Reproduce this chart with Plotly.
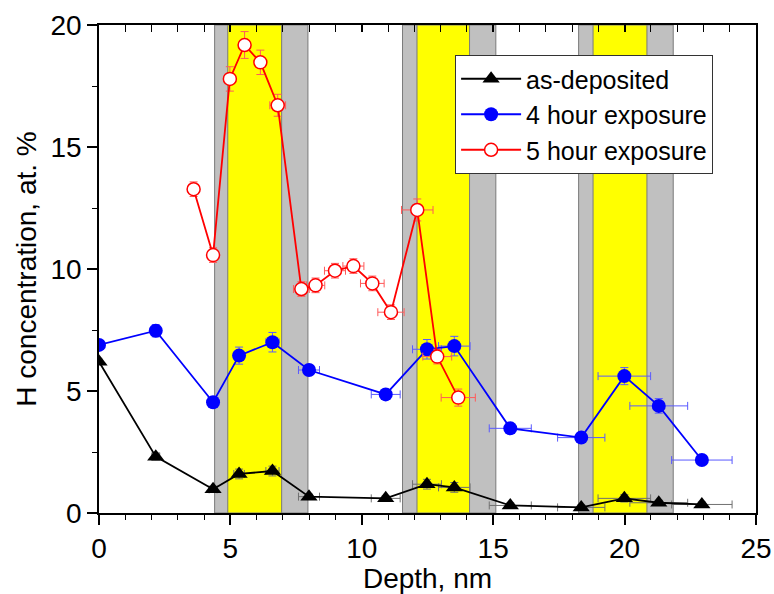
import plotly.graph_objects as go

# Depth profile points shared by the as-deposited and 4 hour samples (nm)
depth = [0, 2.16, 4.34, 5.33, 6.6, 7.99, 10.91, 12.48, 13.52, 15.65, 18.35, 19.99, 21.3, 22.94]
depth_err = [0.1, 0.15, 0.15, 0.2, 0.25, 0.4, 0.55, 0.55, 0.6, 0.8, 0.9, 1.0, 1.1, 1.15]

# H concentration, at. %
as_deposited = [6.2, 2.31, 0.97, 1.6, 1.72, 0.67, 0.6, 1.18, 1.05, 0.31, 0.23, 0.6, 0.42, 0.35]
as_deposited_err = [0.1, 0.15, 0.1, 0.2, 0.2, 0.1, 0.1, 0.2, 0.2, 0.1, 0.1, 0.15, 0.1, 0.1]

four_hour = [6.89, 7.47, 4.54, 6.45, 7.0, 5.86, 4.86, 6.71, 6.84, 3.47, 3.09, 5.61, 4.39, 2.17]
four_hour_err = [0.15, 0.25, 0.15, 0.35, 0.4, 0.2, 0.2, 0.4, 0.4, 0.15, 0.15, 0.35, 0.3, 0.1]

# 5 hour exposure sample
depth5 = [3.6, 4.34, 4.98, 5.54, 6.14, 6.8, 7.7, 8.24, 8.98, 9.68, 10.4, 11.11, 12.11, 12.87, 13.67]
depth5_err = [0.12, 0.12, 0.15, 0.15, 0.2, 0.3, 0.3, 0.35, 0.4, 0.4, 0.45, 0.5, 0.6, 0.55, 0.65]
five_hour = [13.27, 10.57, 17.79, 19.18, 18.47, 16.71, 9.18, 9.33, 9.93, 10.12, 9.41, 8.23, 12.42, 6.41, 4.73]
five_hour_err = [0.3, 0.3, 0.5, 0.55, 0.5, 0.45, 0.3, 0.3, 0.3, 0.3, 0.3, 0.3, 0.45, 0.3, 0.35]

# Layer stack: (interface start, layer start, layer end, interface end), nm
layers = [
    (4.4, 4.9, 6.95, 7.95),
    (11.55, 12.1, 14.1, 15.1),
    (18.25, 18.8, 20.85, 21.85),
]

FONT = "Liberation Sans, Arial, sans-serif"

fig = go.Figure()

# Shaded layers behind the data
for g0, y0, y1, g1 in layers:
    fig.add_shape(type="rect", xref="x", yref="paper", x0=g0, x1=g1, y0=0, y1=1,
                  fillcolor="#c0c0c0", line=dict(color="#7a7a7a", width=1), layer="below")
    fig.add_shape(type="rect", xref="x", yref="paper", x0=y0, x1=y1, y0=0, y1=1,
                  fillcolor="#ffff00", line=dict(color="#7a7a7a", width=1), layer="below")


def series(x, xe, y, ye, name, color, errcolor, marker):
    return go.Scatter(
        x=x, y=y, name=name, mode="lines+markers",
        line=dict(color=color, width=1.8),
        marker=marker,
        error_x=dict(type="data", array=xe, color=errcolor, thickness=1, width=4),
        error_y=dict(type="data", array=ye, color=errcolor, thickness=1, width=4),
    )


fig.add_trace(series(depth, depth_err, as_deposited, as_deposited_err, "as-deposited",
                     "#000000", "#707070",
                     dict(symbol="triangle-up", size=15, color="#000000")))
fig.add_trace(series(depth, depth_err, four_hour, four_hour_err, "4 hour exposure",
                     "#0000ff", "#5a5aff",
                     dict(symbol="circle", size=14, color="#0000ff")))
fig.add_trace(series(depth5, depth5_err, five_hour, five_hour_err, "5 hour exposure",
                     "#ff0000", "#ff5a5a",
                     dict(symbol="circle", size=13, color="#ffffff",
                          line=dict(color="#ff0000", width=1.5))))

# Empty trace on the top axis so the inward ticks are drawn
fig.add_trace(go.Scatter(x=[], y=[], xaxis="x2", showlegend=False, hoverinfo="skip"))

axis_common = dict(
    showgrid=False, zeroline=False, automargin=False,
    showline=True, linecolor="#000000", linewidth=1.5,
    tickfont=dict(family=FONT, size=28, color="#000000"),
    ticks="outside", ticklen=10, tickwidth=1.5, tickcolor="#000000",
)

fig.update_layout(
    width=774, height=594,
    margin=dict(l=99, r=18, t=25, b=81, autoexpand=False),
    plot_bgcolor="#ffffff", paper_bgcolor="#ffffff",
    font=dict(family=FONT, color="#000000"),
    xaxis=dict(
        **axis_common, range=[0, 25], dtick=5, tick0=0, mirror=True,
        minor=dict(dtick=1, ticks="outside", ticklen=5, tickwidth=1.2, tickcolor="#000000"),
        title=dict(text="Depth, nm", font=dict(family=FONT, size=28), standoff=4),
    ),
    xaxis2=dict(
        overlaying="x", side="top", range=[0, 25], dtick=5, tick0=0,
        showgrid=False, zeroline=False, showline=False, showticklabels=False,
        ticks="inside", ticklen=7, tickwidth=1.5, tickcolor="#000000",
        minor=dict(dtick=1, ticks="inside", ticklen=7, tickwidth=1.2, tickcolor="#000000"),
    ),
    yaxis=dict(
        **axis_common, range=[0, 20], dtick=5, tick0=0, mirror=True,
        minor=dict(dtick=2.5, ticks="outside", ticklen=5, tickwidth=1.2, tickcolor="#000000"),
        title=dict(text="H concentration, at. %", font=dict(family=FONT, size=28), standoff=6),
    ),
    legend=dict(
        x=0.542, y=0.9385, xanchor="left", yanchor="top",
        bgcolor="#ffffff", bordercolor="#333333", borderwidth=1,
        font=dict(family=FONT, size=25, color="#000000"),
        itemwidth=60, tracegroupgap=0,
    ),
    showlegend=True,
)

fig.write_html("out.html")
